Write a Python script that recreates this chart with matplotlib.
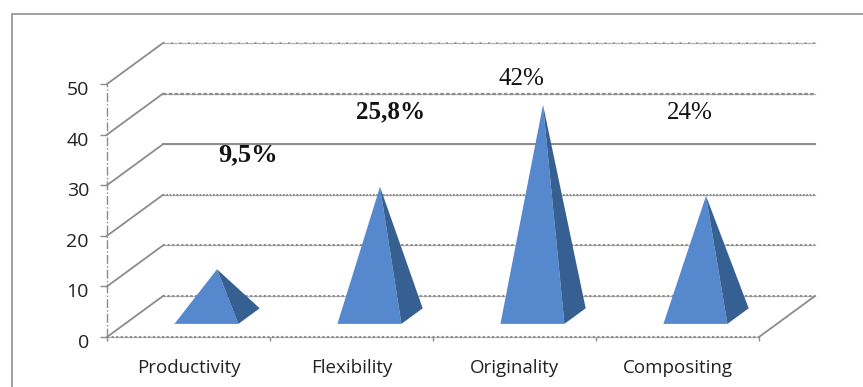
import matplotlib
matplotlib.use("Agg")
import matplotlib.pyplot as plt
from matplotlib.patches import Polygon, Rectangle
from matplotlib.transforms import ScaledTranslation

categories = ["Productivity", "Flexibility", "Originality", "Compositing"]
values = [9.5, 25.8, 42, 24]
value_labels = ["9,5%", "25,8%", "42%", "24%"]
label_bold = [True, True, False, False]
label_size = [19, 18, 18, 18]
label_pos = [(248, 155), (391, 112), (521, 79), (690, 113)]
y_ticks = [0, 10, 20, 30, 40, 50]

W, H = 863, 387
GRID = "#8c8c8c"
FRONT = "#5588cc"
SIDE = "#376092"

# depth of the floor, in axis units
DEPTH_X = 56 / 163
DEPTH_Y = 41 / 5.06
BASE_W = 64 / 163


def project(x, v, d):
    """Front-plane coords (category, value) pushed back by depth d in 0..1."""
    return x + d * DEPTH_X, v + d * DEPTH_Y


fig = plt.figure(figsize=(W / 100, H / 100), dpi=100)
# frame runs off the right and bottom edges
fig.patches.append(Rectangle((11.5 / W, -0.02), 1, 1 - 13.5 / H + 0.02, transform=fig.transFigure,
                             fill=False, edgecolor="#999999", linewidth=1.3))

ax = fig.add_axes([107 / W, (H - 337) / H, 652 / W, 253 / H])
ax.set_xlim(0, 4)
ax.set_ylim(0, 50)
for s in ax.spines.values():
    s.set_visible(False)

ax.set_yticks(y_ticks)
ax.set_xticks([0.5, 1.5, 2.5, 3.5])
ax.set_xticklabels(categories)
ax.set_xticks([0, 1, 2, 3, 4], minor=True)
ax.tick_params(axis="y", length=5, width=1, color=GRID, pad=8, labelsize=14, labelcolor="#222222")
ax.tick_params(axis="x", which="major", length=0, pad=16, labelsize=13.5, labelcolor="#222222")
ax.tick_params(axis="x", which="minor", length=3, width=1, color=GRID)
for t in ax.get_xticklabels() + ax.get_yticklabels():
    t.set_fontfamily("Open Sans")
# y tick labels sit a little below their ticks
shift = ScaledTranslation(0, -4 / 100, fig.dpi_scale_trans)
for t in ax.get_yticklabels():
    t.set_transform(t.get_transform() + shift)

# left wall edge
ax.plot([0, 0], [0, 50], color=GRID, lw=1, ls="-.", clip_on=False, zorder=1)

# gridlines: side wall slant plus back wall run
styles = {
    0: (1.5, (0, (1, 1.2))),
    10: (1.5, (0, (1, 1.2))),
    20: (1.5, (0, (0.8, 0.8))),
    30: (1.4, "-"),
    40: (1.6, (0, (1.6, 1))),
    50: (1.2, (0, (1, 4))),
}
for v in y_ticks:
    x1, y1 = project(0, v, 1)
    x2, y2 = project(4, v, 1)
    ax.plot([0, x1], [v, y1], color=GRID, lw=1.3, clip_on=False, zorder=1)
    ax.plot([x1, x2], [y1, y2], color="#b0b0b0", lw=0.9, clip_on=False, zorder=1)
    lw, ls = styles[v]
    ax.plot([x1, x2], [y1, y2], color=GRID, lw=lw, ls=ls, clip_on=False, zorder=1)

# floor: front edge and right slant
ax.plot([0, 4], [0, 0], color="#b0b0b0", lw=0.9, clip_on=False, zorder=1)
ax.plot([0, 4], [0, 0], color=GRID, lw=1.5, ls=(0, (1, 1.2)), clip_on=False, zorder=1)
ax.plot([4, 4 + DEPTH_X], [0, DEPTH_Y], color=GRID, lw=1.3, clip_on=False, zorder=1)

# pyramids
for i, v in enumerate(values):
    c = i + 0.5
    left = c - BASE_W / 2
    right = c + BASE_W / 2
    fl = project(left, 0, 0.32)
    fr = project(right, 0, 0.32)
    br = project(right, 0, 0.70)
    apex = project(c + 0.01, v, 0.48)
    ax.add_patch(Polygon([fl, fr, apex], closed=True, facecolor=FRONT, edgecolor="none", clip_on=False, zorder=3))
    ax.add_patch(Polygon([fr, br, apex], closed=True, facecolor=SIDE, edgecolor="none", clip_on=False, zorder=3))

# value labels are placed over the chart in pixel positions
for txt, bold, size, (px, py) in zip(value_labels, label_bold, label_size, label_pos):
    fig.text(px / W, 1 - py / H, txt, ha="center", va="center", family="Liberation Serif",
             fontsize=size, fontweight="bold" if bold else "normal", color="#111111")

fig.savefig("out.png", dpi=100)
